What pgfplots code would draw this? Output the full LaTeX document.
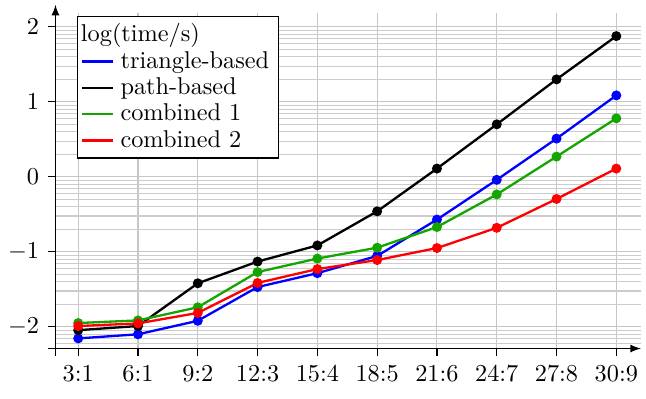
\documentclass[border=0pt]{standalone}
\usepackage{pgfplots}
\pgfplotsset{compat=1.18}
\definecolor{cgreen}{RGB}{20,165,0}
\begin{document}
\begin{tikzpicture}
\begin{axis}[
  scale only axis,
  width=241pt, height=138.3pt,
  xmin=-0.38, xmax=9.41,
  ymin=-2.29, ymax=2.19,
  axis lines=left,
  axis line style={-latex, line width=0.5pt, shorten <=-3pt},
  y axis line style={shorten >=-3.2pt},
  xtick={0,...,9},
  xticklabels={3:1,6:1,9:2,12:3,15:4,18:5,21:6,24:7,27:8,30:9},
  ytick={-2,-1,0,1,2},
  minor ytick={-2.69897,-2.52288,-2.39794,-2.30103,-2.22185,-2.15490,-2.09691,-2.04576,
    -1.69897,-1.52288,-1.39794,-1.30103,-1.22185,-1.15490,-1.09691,-1.04576,
    -0.69897,-0.52288,-0.39794,-0.30103,-0.22185,-0.15490,-0.09691,-0.04576,
    0.30103,0.47712,0.60206,0.69897,0.77815,0.84510,0.90309,0.95424,
    1.30103,1.47712,1.60206,1.69897,1.77815,1.84510,1.90309,1.95424},
  tick align=outside,
  major tick length=3.2pt,
  minor tick length=0pt,
  tick style={black, line width=0.5pt},
  grid=both,
  major grid style={gray!45, line width=0.45pt},
  minor grid style={gray!40, line width=0.45pt},
  legend cell align=left,
  legend style={at={(rel axis cs:0.036,0.991)}, anchor=north west, draw=black, line width=0.5pt, fill=white, inner xsep=1.7pt, inner ysep=1pt, row sep=-1.6pt, column sep=0.7pt},
  legend image code/.code={\draw[#1] (0cm,0cm) -- (0.44cm,0cm);},
  every axis plot/.append style={line width=0.95pt, mark=*, mark size=1.55pt},
]
\addlegendimage{empty legend}
\addlegendentry{\hspace*{-16.3pt}log(time/s)}
\addplot[blue, mark options={fill=blue}] coordinates {
  (0,-2.155) (1,-2.10) (2,-1.92) (3,-1.47) (4,-1.285) (5,-1.055) (6,-0.57) (7,-0.04) (8,0.51) (9,1.086)};
\addlegendentry{triangle-based}
\addplot[black, mark options={fill=black}] coordinates {
  (0,-2.045) (1,-1.99) (2,-1.42) (3,-1.13) (4,-0.915) (5,-0.46) (6,0.11) (7,0.70) (8,1.30) (9,1.877)};
\addlegendentry{path-based}
\addplot[cgreen, mark options={fill=cgreen}] coordinates {
  (0,-1.95) (1,-1.915) (2,-1.74) (3,-1.27) (4,-1.09) (5,-0.945) (6,-0.67) (7,-0.235) (8,0.27) (9,0.78)};
\addlegendentry{combined 1}
\addplot[red, mark options={fill=red}] coordinates {
  (0,-1.99) (1,-1.955) (2,-1.815) (3,-1.415) (4,-1.23) (5,-1.11) (6,-0.95) (7,-0.68) (8,-0.295) (9,0.11)};
\addlegendentry{combined 2}
\end{axis}
\path ([yshift=5.2pt]current axis.north) ([yshift=-3.6pt]current axis.below south);
\end{tikzpicture}
\end{document}
